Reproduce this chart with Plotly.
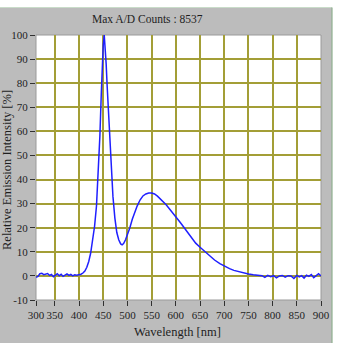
import plotly.graph_objects as go

# Emission spectrum (wavelength in nm, relative intensity in %)
wavelength = [
    311, 315, 319, 323, 327, 331, 335, 339, 343, 347, 351, 355, 359, 363, 367,
    371, 375, 379, 383, 387, 391, 395, 400, 404, 408, 412, 416, 420, 424, 428,
    432, 436, 440, 443, 446, 448, 450, 452, 454, 456, 458, 460, 463, 466, 470,
    474, 478, 482, 486, 489, 492, 496, 500, 505, 510, 515, 520, 526, 532, 538,
    544, 550, 556, 562, 568, 574, 580, 587, 595, 602, 608, 615, 622, 632, 641,
    650, 660, 670, 680, 691, 700, 711, 720, 730, 740, 750, 760, 770, 778, 784,
    790, 796, 802, 808, 814, 820, 826, 832, 838, 844, 850, 855, 860, 865, 870,
    875, 880, 885, 890, 895, 900,
]
intensity = [
    -0.6, -0.2, 0.9, 1.1, 0.5, 0.8, 1.0, 0.2, 0.6, -0.3, 0.4, 0.9, 0.1, 0.7,
    -0.2, 0.5, 0.8, 0.2, 0.6, 0.0, 0.5, 0.3, 0.4, 0.7, 1.2, 2.0, 3.6, 6.0, 9.5,
    14.5, 20.5, 29.0, 43.0, 58.0, 76.0, 87.0, 96.0, 100.0, 95.0, 88.0, 79.0,
    71.0, 59.0, 47.0, 33.0, 24.0, 18.0, 15.0, 13.3, 12.9, 13.4, 15.0, 17.0,
    20.0, 23.5, 26.5, 29.0, 31.5, 33.2, 34.0, 34.4, 34.4, 34.0, 33.1, 32.0,
    30.9, 29.5, 27.8, 25.9, 24.1, 22.5, 20.6, 18.6, 15.8, 13.6, 11.9, 10.0,
    8.2, 6.6, 5.1, 4.1, 3.0, 2.3, 1.7, 1.2, 0.8, 0.5, 0.3, 0.1, -0.6, 0.2,
    -0.3, 0.1, -0.8, 0.0, 0.2, -0.5, 0.1, 0.0, -1.1, 0.2, -0.4, 0.1, -0.9,
    0.3, -0.2, 0.6, -0.7, 0.2, 0.9, 0.0,
]

# Axis ticks (the first x tick sits on the left edge of the axis)
x_tick_vals = [311, 350, 400, 450, 500, 550, 600, 650, 700, 750, 800, 850, 900]
x_tick_text = ["300", "350", "400", "450", "500", "550", "600", "650",
               "700", "750", "800", "850", "900"]
y_tick_vals = [-10, 0, 10, 20, 30, 40, 50, 60, 70, 80, 90, 100]
y_tick_text = ["-10", "0", "10", "20", "30", "40", "50", "60", "70", "80",
               "90", "100"]

title_text = "Max A/D Counts : 8537"
x_title = "Wavelength [nm]"
y_title = "Relative Emission Intensity [%]"

FONT = "Liberation Serif"
GRID = "#a39e36"
PANEL = "#bcbcbc"
TEXT = "#1e1e1e"

fig = go.Figure()
fig.add_trace(go.Scatter(
    x=wavelength, y=intensity, mode="lines",
    line=dict(color="#1f1fff", width=1.5),
    hoverinfo="skip",
))

# Plot area spans 36..321 px horizontally and 35..300 px vertically
L, R, T, B = 36, 321, 35, 300
W, H = R - L, B - T


def px_x(px):
    return (px - L) / W


def px_y(py):
    return (B - py) / H


shapes = [
    # grey instrument panel behind the chart
    dict(type="rect", xref="paper", yref="paper", layer="below",
         x0=px_x(0), x1=px_x(332), y0=px_y(343), y1=px_y(8),
         fillcolor=PANEL, line=dict(width=0)),
    dict(type="line", xref="paper", yref="paper", layer="below",
         x0=px_x(0), x1=px_x(332), y0=px_y(7.5), y1=px_y(7.5),
         line=dict(color="#c9dcc9", width=1)),
    dict(type="line", xref="paper", yref="paper", layer="below",
         x0=px_x(332), x1=px_x(332), y0=px_y(343), y1=px_y(7.5),
         line=dict(color="#8fb08f", width=1.2)),
    # white plotting area
    dict(type="rect", xref="paper", yref="paper", layer="below",
         x0=0, x1=1, y0=0, y1=1,
         fillcolor="white", line=dict(color="#9a9a9a", width=1)),
]

annotations = [
    dict(text=title_text, xref="paper", yref="paper",
         x=px_x(147), y=px_y(19), xanchor="center", yanchor="middle",
         showarrow=False, font=dict(family=FONT, size=11.5, color=TEXT)),
    dict(text=x_title, xref="paper", yref="paper",
         x=px_x(177), y=px_y(332), xanchor="center", yanchor="middle",
         showarrow=False, font=dict(family=FONT, size=12.5, color=TEXT)),
    dict(text=y_title, xref="paper", yref="paper", textangle=-90,
         x=px_x(7), y=px_y(170), xanchor="center", yanchor="middle",
         showarrow=False, font=dict(family=FONT, size=12.5, color=TEXT)),
]

fig.update_layout(
    width=349, height=361,
    margin=dict(l=L, r=349 - R, t=T, b=361 - B, pad=0),
    paper_bgcolor="white",
    plot_bgcolor="white",
    showlegend=False,
    shapes=shapes,
    annotations=annotations,
    font=dict(family=FONT, size=11, color=TEXT),
)
fig.update_xaxes(
    range=[311, 900], tickmode="array",
    tickvals=x_tick_vals, ticktext=x_tick_text, tickangle=0,
    showgrid=True, gridcolor=GRID, gridwidth=1.5,
    ticks="outside", ticklen=5, tickcolor="#303030", tickwidth=1,
    zeroline=False, showline=False,
    tickfont=dict(family=FONT, size=11, color=TEXT),
)
fig.update_yaxes(
    range=[-10, 100], tickmode="array",
    tickvals=y_tick_vals, ticktext=y_tick_text,
    showgrid=True, gridcolor=GRID, gridwidth=1.5,
    ticks="outside", ticklen=5, tickcolor="#303030", tickwidth=1,
    zeroline=False, showline=False,
    tickfont=dict(family=FONT, size=11, color=TEXT),
)

fig.write_html("out.html")
